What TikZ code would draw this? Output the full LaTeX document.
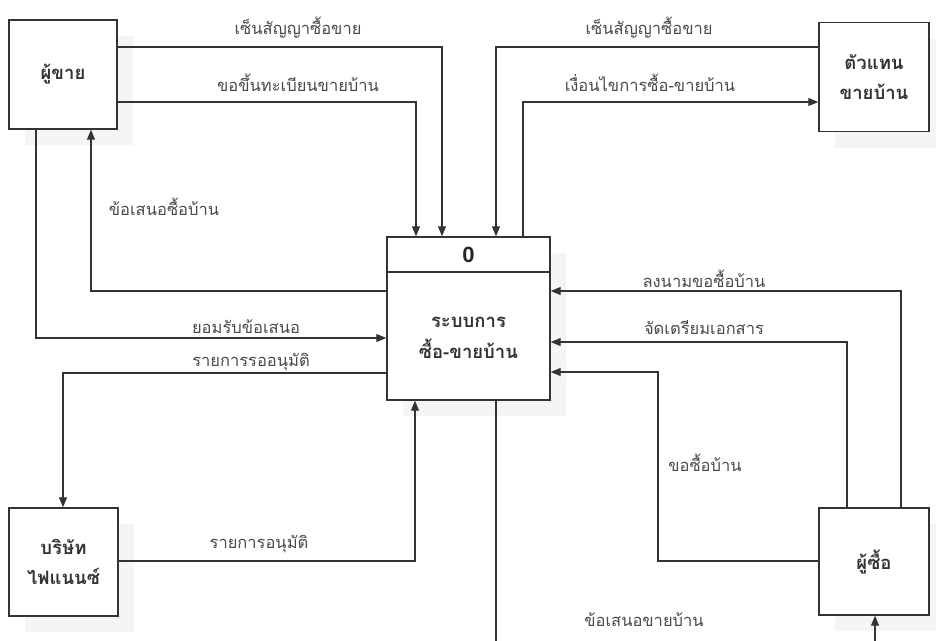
\documentclass[tikz,border=0pt]{standalone}
\usepackage{fontspec}
\newfontfamily\thaifont[Script=Thai]{Loma}
\usetikzlibrary{arrows.meta,shadows}
\definecolor{linec}{HTML}{333333}
\definecolor{textc}{HTML}{4A4A4A}
\begin{document}
\begin{tikzpicture}[x=1pt,y=-1pt,
  entity/.style={draw=linec,line width=1.4pt,fill=white,rectangle,inner sep=0pt,
    align=center,font=\thaifont\fontsize{18.5}{30}\selectfont\bfseries,text=black!80,
    drop shadow={shadow xshift=16pt,shadow yshift=-16pt,fill=black!4,opacity=1}},
  flow/.style={draw=linec,line width=1.1pt,-{Triangle[length=10pt,width=8pt]}},
  flowlabel/.style={font=\thaifont\fontsize{16.5}{18}\selectfont,text=textc,inner sep=0pt}]
\clip (0,0) rectangle (936,640);
\fill[white] (0,0) rectangle (936,640);
% entities
\node[entity,minimum width=108pt,minimum height=109pt] (seller) at (63,74.5) {ผู้ขาย};
\node[entity,minimum width=110pt,minimum height=109pt] (agent) at (874,77) {ตัวแทน\\ขายบ้าน};
\node[entity,minimum width=109pt,minimum height=108pt] (finance) at (63.5,562) {บริษัท\\ไฟแนนซ์};
\node[entity,minimum width=110pt,minimum height=107pt] (buyer) at (874,561.5) {ผู้ซื้อ};
% process
\node[entity,minimum width=163pt,minimum height=163pt] (center) at (468.5,318.5) {};
\draw[linec,line width=1.4pt] (center.west |- 0,272) coordinate (dl) -- (center.east |- 0,272) coordinate (dr);
\node[font=\fontspec{Liberation Sans}\fontsize{22}{24}\selectfont\bfseries,text=black!85] (pid) at (468.5,254.5) {0};
\node[align=center,font=\thaifont\fontsize{18.5}{31}\selectfont\bfseries,text=black!80] (pname) at (468.5,338) {ระบบการ\\ซื้อ-ขายบ้าน};
% flows
\draw[flow] (seller.east |- 0,47) -| (center.north -| 442,0);
\node[flowlabel] (l1) at (298,28) {เซ็นสัญญาซื้อขาย};
\draw[flow] (seller.east |- 0,102) -| (center.north -| 416,0);
\node[flowlabel] (l2) at (298,83) {ขอขึ้นทะเบียนขายบ้าน};
\draw[flow] (center.west |- 0,291) -| (seller.south -| 91,0);
\node[flowlabel] (l3) at (164,207) {ข้อเสนอซื้อบ้าน};
\draw[flow] (seller.south -| 36,0) |- (center.west |- 0,338);
\node[flowlabel] (l4) at (246,327) {ยอมรับข้อเสนอ};
\draw[flow] (center.west |- 0,373) -| (finance.north -| 63,0);
\node[flowlabel] (l5) at (251,362) {รายการรออนุมัติ};
\draw[flow] (finance.east |- 0,561) -| (center.south -| 415,0);
\node[flowlabel] (l6) at (259,544) {รายการอนุมัติ};
\draw[flow] (agent.west |- 0,47) -| (center.north -| 496,0);
\node[flowlabel] (l7) at (649,28) {เซ็นสัญญาซื้อขาย};
\draw[flow] (center.north -| 523,0) |- (agent.west |- 0,102);
\node[flowlabel] (l8) at (650,83) {เงื่อนไขการซื้อ-ขายบ้าน};
\draw[flow] (buyer.north -| 901,0) |- (center.east |- 0,291);
\node[flowlabel] (l9) at (704,279) {ลงนามขอซื้อบ้าน};
\draw[flow] (buyer.north -| 847,0) |- (center.east |- 0,342);
\node[flowlabel] (l10) at (704,328) {จัดเตรียมเอกสาร};
\coordinate (k1) at (658,372);
\draw[flow] (buyer.west |- 0,561) -| (k1) -- (center.east |- k1);
\node[flowlabel] (l11) at (705,463) {ขอซื้อบ้าน};
\coordinate (b1) at (496,660);
\draw[flow] (center.south -| b1) -- (b1) -| (buyer.south -| 875,0);
\node[flowlabel] (l12) at (644,620) {ข้อเสนอขายบ้าน};
\end{tikzpicture}
\end{document}
